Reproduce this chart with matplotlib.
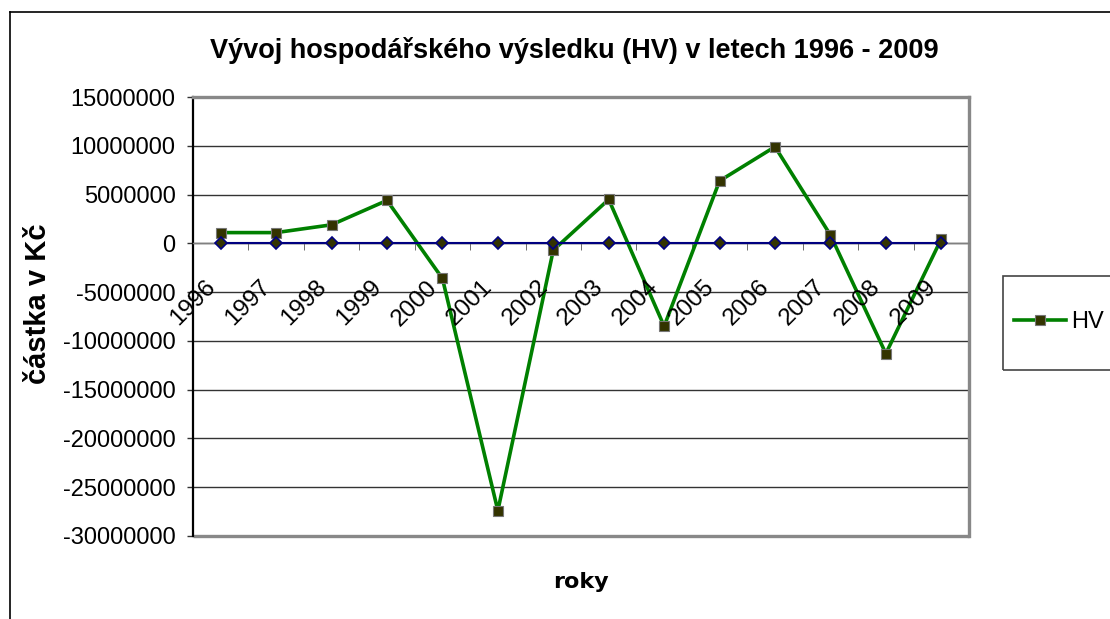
import matplotlib
matplotlib.use("Agg")
import matplotlib.pyplot as plt
import matplotlib.transforms as mtransforms
from matplotlib.lines import Line2D
from matplotlib.patches import Rectangle
import numpy as np

plt.rcParams['font.family'] = ['Liberation Sans', 'DejaVu Sans']

# data
years = ['1996', '1997', '1998', '1999', '2000', '2001', '2002',
         '2003', '2004', '2005', '2006', '2007', '2008', '2009']
hv = [1100000, 1100000, 1900000, 4400000, -3600000, -27400000, -700000,
      4500000, -8500000, 6400000, 9900000, 850000, -11300000, 450000]
zero_line = [0] * len(years)
y_ticks = [15000000, 10000000, 5000000, 0, -5000000, -10000000,
           -15000000, -20000000, -25000000, -30000000]

W, H = 1110, 619
fig = plt.figure(figsize=(W / 100, H / 100), dpi=100)

# plot area in pixels: left 193, right 969, top 97, bottom 536
ax = fig.add_axes([193 / W, 1 - 536 / H, 776 / W, 439 / H])
x = np.arange(len(years))

ax.plot(x, hv, color='#008000', lw=2.6, marker='s', ms=7.2,
        mfc='#333300', mec='#777777', mew=0.8, zorder=3, label='HV')
ax.plot(x, zero_line, color='#000080', lw=1.5, marker='D', ms=6.5,
        mfc='#333300', mec='#000080', mew=1.2, zorder=4)

ax.set_xlim(-0.5, len(years) - 0.5)
ax.set_ylim(-30000000, 15000000)
ax.set_yticks(y_ticks)
ax.set_yticklabels([str(v) for v in y_ticks], fontsize=17)
ax.yaxis.grid(True, color='#333333', lw=1)
ax.set_axisbelow(True)

# category axis crosses at zero
ax.spines['bottom'].set_position(('data', 0))
ax.spines['bottom'].set_color('#808080')
ax.spines['bottom'].set_linewidth(1)
ax.set_xticks(x)
ax.set_xticklabels([])
ax.set_xticks(np.arange(-0.5, len(years), 1), minor=True)
ax.tick_params(axis='x', which='major', length=0)
ax.tick_params(axis='x', which='minor', length=5, color='#555555',
               direction='out')
ax.tick_params(axis='y', length=4.5, width=1, color='#333333', pad=8)

# category labels, rotated, just under the zero line
lab_tr = mtransforms.blended_transform_factory(ax.transData, ax.transAxes)
for i, yr in enumerate(years):
    ax.text(i - 0.3, 0.592, yr, transform=lab_tr, fontsize=17.5,
            rotation=45, ha='right', va='top', rotation_mode='anchor')

ax.spines['left'].set_color('black')
ax.spines['left'].set_linewidth(1.6)
for s in ['top', 'right']:
    ax.spines[s].set_color('#888888')
    ax.spines[s].set_linewidth(2.4)
ax.plot([0, 1], [0, 0], transform=ax.transAxes, color='#888888', lw=2.4,
        clip_on=False, solid_capstyle='butt')

ax.set_ylabel('částka v Kč', fontsize=21, fontweight='bold')
ax.yaxis.set_label_coords(-0.2, 0.53)
ax.yaxis.label.set_va('center')
ax.set_xlabel('roky', fontsize=16, fontweight='bold',
              family=['DejaVu Sans'])
ax.xaxis.set_label_coords(0.5, -0.105)
ax.xaxis.label.set_va('center')

fig.text(574 / W, 1 - 51 / H, 'Vývoj hospodářského výsledku (HV) v letech 1996 - 2009',
         fontsize=19.5, fontweight='bold', ha='center', va='center')

# outer chart frame (left and top only visible)
fig.add_artist(Line2D([10 / W, 10 / W], [0, 1 - 12 / H], color='black', lw=1.2))
fig.add_artist(Line2D([10 / W, 1], [1 - 12 / H, 1 - 12 / H], color='black', lw=1.2))

# legend box
fig.add_artist(Rectangle((1003 / W, 1 - 370 / H), 120 / W, 94 / H,
                         transform=fig.transFigure, fill=False,
                         edgecolor='#444444', lw=1.2))
fig.legend(loc='center left', bbox_to_anchor=(1014 / W, 1 - 322 / H),
           frameon=False, fontsize=17, handlelength=2.2, handletextpad=0.2,
           borderpad=0, borderaxespad=0)

fig.savefig('out.png', dpi=100)
